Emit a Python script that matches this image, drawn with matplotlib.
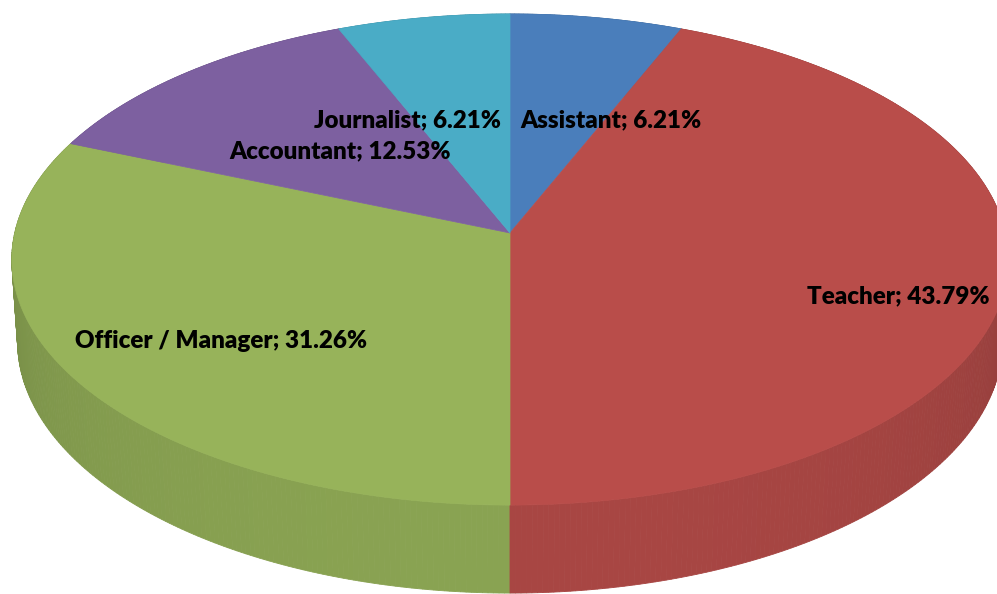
import numpy as np
import matplotlib.pyplot as plt
from matplotlib.patches import Polygon

# slice data, clockwise from 12 o'clock
labels = ['Assistant', 'Teacher', 'Officer / Manager', 'Accountant', 'Journalist']
shares = [6.21, 43.79, 31.26, 12.53, 6.21]
colors = ['#4A7EBB', '#B94D4A', '#97B35A', '#7D60A0', '#4AACC6']

# where each data label sits (pixels)
label_pos = [(611, 120), (898, 296), (221, 341), (340, 151), (407, 120)]

# camera for the tilted disc
CX, CY = 510.0, 233.0
TILT = np.arcsin(0.49)
DIST = 8.07
FOCAL = 3997.0
DEPTH = 0.1915


def project(theta, r=1.0, h=0.0):
    u = r * np.sin(theta)
    v = r * np.cos(theta)
    s, c = np.sin(TILT), np.cos(TILT)
    X = u
    Y = v * s + h * c
    Z = DIST + v * c - h * s
    return CX + FOCAL * X / Z, CY - FOCAL * Y / Z


def shade(col, f):
    rgb = np.array(plt.matplotlib.colors.to_rgb(col))
    return tuple(np.clip(rgb * f, 0, 1))


fig = plt.figure(figsize=(9.97, 5.94), dpi=100)
ax = fig.add_axes([0, 0, 1, 1])
ax.set_xlim(0, 997)
ax.set_ylim(594, 0)
ax.axis('off')

vals = np.array(shares)
edges = np.concatenate([[0], np.cumsum(vals) / vals.sum() * 2 * np.pi])

# outer wall, built from thin quads and painted back to front
quads = []
for i in range(len(vals)):
    n = max(int((edges[i + 1] - edges[i]) / 0.01), 2)
    th = np.linspace(edges[i], edges[i + 1], n + 1)
    for a, b in zip(th[:-1], th[1:]):
        m = 0.5 * (a + b)
        v = np.cos(m)
        f = 0.76 + 0.15 * max(-v, 0) ** 0.7
        pts = [project(a), project(b), project(b, h=-DEPTH), project(a, h=-DEPTH)]
        quads.append((v, pts, shade(colors[i], f)))
quads.sort(key=lambda q: -q[0])
for v, pts, col in quads:
    ax.add_patch(Polygon(pts, closed=True, facecolor=col, edgecolor=col, lw=0.6))

# top faces
for i in range(len(vals)):
    th = np.linspace(edges[i], edges[i + 1], 200)
    pts = [project(0, r=0.0)] + [project(t) for t in th]
    ax.add_patch(Polygon(pts, closed=True, facecolor=colors[i], edgecolor=colors[i], lw=0.5))

for name, pct, (lx, ly) in zip(labels, shares, label_pos):
    ax.text(lx, ly, f'{name}; {pct:.2f}%', ha='center', va='center',
            fontsize=17.4, fontweight='heavy', family='Lato', color='black')

fig.savefig('out.png', dpi=100)
